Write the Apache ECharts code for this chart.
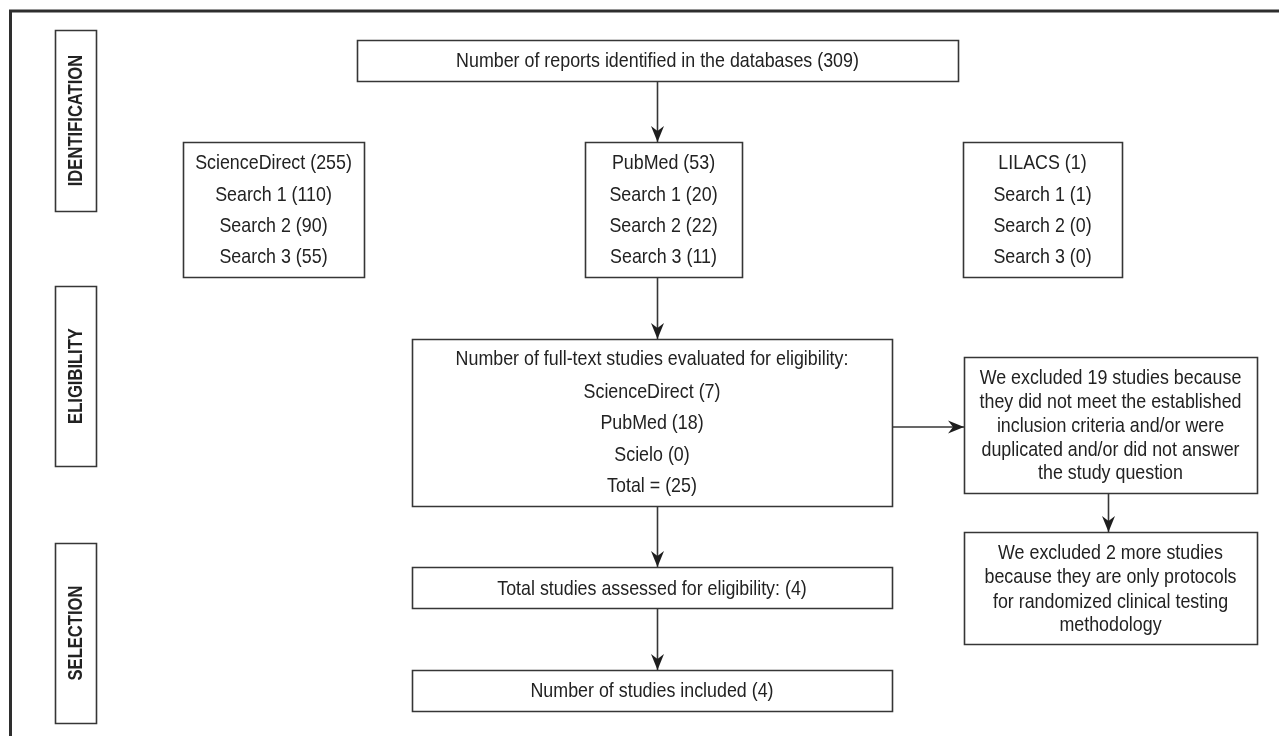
<!DOCTYPE html>
<html>
<head>
<meta charset="utf-8">
<script src="https://cdn.jsdelivr.net/npm/echarts@6/dist/echarts.min.js"></script>
<style>
html,body{margin:0;padding:0;background:#fff;}
#chart{width:1279px;height:736px;}
</style>
</head>
<body>
<div id="chart"></div>
<script>
// ---- data (text content and counts) ----
const stages = ['IDENTIFICATION', 'ELIGIBILITY', 'SELECTION'];
const identifiedTotal = 309;
const dbNames = ['ScienceDirect', 'PubMed', 'LILACS'];
const dbTotals = [255, 53, 1];
const search1 = [110, 20, 1];
const search2 = [90, 22, 0];
const search3 = [55, 11, 0];
const fullTextNames = ['ScienceDirect', 'PubMed', 'Scielo'];
const fullTextCounts = [7, 18, 0];
const fullTextTotal = 25;
const excludedFirst = 19;
const excludedMore = 2;
const assessed = 4;
const included = 4;

// ---- layout (positions / sizes) ----
const FONT = "'Liberation Sans Narrow','Arial Narrow','Liberation Sans',sans-serif";
const INK = '#222222';
const STROKE = '#363636';
const layout = {
  stageBoxes: [[55, 30, 41, 181], [55, 286, 41, 180], [55, 543, 41, 180]],
  top: [357, 40, 601, 41],
  db: [[183, 142, 181, 135], [585, 142, 157, 135], [963, 142, 159, 135]],
  dbLines: [163, 195, 226, 257],
  full: [412, 339, 480, 167],
  fullLines: [359, 392, 423, 455, 486],
  ex1: [964, 357, 293, 136],
  ex1Lines: [378, 402, 426, 450, 473],
  ex2: [964, 532, 293, 112],
  ex2Lines: [553, 577, 602, 625],
  assessed: [412, 567, 480, 41],
  included: [412, 670, 480, 41]
};

const els = [];
function box(r) {
  els.push({type: 'rect', shape: {x: r[0] + 0.5, y: r[1] + 0.5, width: r[2], height: r[3]},
    style: {fill: '#fff', stroke: STROKE, lineWidth: 1.6}, z: 1});
}
function txt(s, x, y, opt) {
  opt = opt || {};
  els.push({type: 'text', x: x, y: y, rotation: opt.rot || 0, scaleX: opt.sx || 0.85, z: 3,
    style: {text: s, fill: INK, fontSize: opt.size || 21, fontWeight: opt.weight || 'normal',
      fontFamily: FONT, textAlign: 'center', textVerticalAlign: 'middle'}});
}
function lines(arr, r, ys) {
  const cx = r[0] + r[2] / 2;
  arr.forEach((s, i) => txt(s, cx, ys[i]));
}
function arrow(x1, y1, x2, y2) {
  els.push({type: 'line', shape: {x1: x1, y1: y1, x2: x2, y2: y2},
    style: {stroke: STROKE, lineWidth: 1.6}, z: 2});
  const ang = Math.atan2(y2 - y1, x2 - x1);
  const L = 16, W = 6.5, N = 11;
  const ca = Math.cos(ang), sa = Math.sin(ang);
  const p = (a, b) => [x2 - a * ca + b * sa, y2 - a * sa - b * ca];
  els.push({type: 'polygon', shape: {points: [[x2, y2], p(L, W), p(N, 0), p(L, -W)]},
    style: {fill: '#1e1e1e'}, z: 2});
}

// outer frame (top and left edges)
els.push({type: 'polyline', shape: {points: [[10.5, 740], [10.5, 11], [1285, 11]]},
  style: {stroke: '#2e2e2e', lineWidth: 3, fill: null}, z: 0});

// stage boxes
stages.forEach((s, i) => {
  const r = layout.stageBoxes[i];
  box(r);
  txt(s, r[0] + r[2] / 2 + 0.5, r[1] + r[3] / 2, {rot: Math.PI / 2, weight: 'bold', size: 21, sx: 0.79});
});

// top box
box(layout.top);
lines(['Number of reports identified in the databases (' + identifiedTotal + ')'], layout.top, [61]);

// database boxes
dbNames.forEach((n, i) => {
  const r = layout.db[i];
  box(r);
  lines([n + ' (' + dbTotals[i] + ')', 'Search 1 (' + search1[i] + ')',
    'Search 2 (' + search2[i] + ')', 'Search 3 (' + search3[i] + ')'], r, layout.dbLines);
});

// full text box
box(layout.full);
lines(['Number of full-text studies evaluated for eligibility:']
  .concat(fullTextNames.map((n, i) => n + ' (' + fullTextCounts[i] + ')'))
  .concat(['Total = (' + fullTextTotal + ')']), layout.full, layout.fullLines);

// exclusion boxes
box(layout.ex1);
lines(['We excluded ' + excludedFirst + ' studies because', 'they did not meet the established',
  'inclusion criteria and/or were', 'duplicated and/or did not answer', 'the study question'],
  layout.ex1, layout.ex1Lines);
box(layout.ex2);
lines(['We excluded ' + excludedMore + ' more studies', 'because they are only protocols',
  'for randomized clinical testing', 'methodology'], layout.ex2, layout.ex2Lines);

// assessed and included
box(layout.assessed);
lines(['Total studies assessed for eligibility: (' + assessed + ')'], layout.assessed, [589]);
box(layout.included);
lines(['Number of studies included (' + included + ')'], layout.included, [691]);

// arrows
arrow(657.5, 81, 657.5, 142);
arrow(657.5, 277, 657.5, 339);
arrow(657.5, 506, 657.5, 567);
arrow(657.5, 608, 657.5, 670);
arrow(892, 427, 964, 427);
arrow(1108.5, 493, 1108.5, 532);

const chart = echarts.init(document.getElementById('chart'), null, {renderer: 'canvas'});
chart.setOption({backgroundColor: '#fff', animation: false, graphic: {elements: els}});
</script>
</body>
</html>
